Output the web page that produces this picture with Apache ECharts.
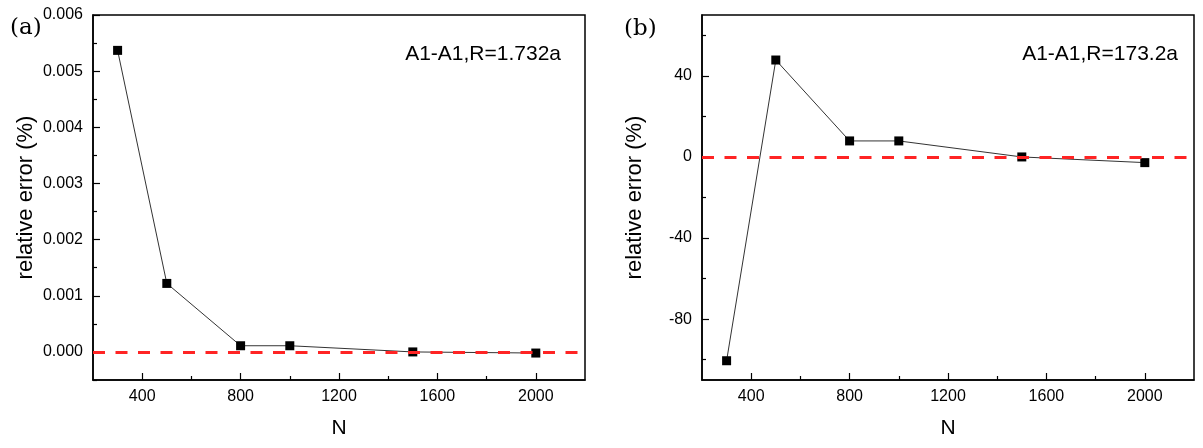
<!DOCTYPE html>
<html>
<head>
<meta charset="utf-8">
<script src="https://cdn.jsdelivr.net/npm/echarts@6/dist/echarts.min.js"></script>
<style>
html,body{margin:0;padding:0;background:#fff;}
#chart{width:1203px;height:448px;}
</style>
</head>
<body>
<div id="chart"></div>
<script>
// ---- data ----
const N = [300, 500, 800, 1000, 1500, 2000];
const errA = [0.00537, 0.00122, 0.00011, 0.00011, 0.0, -0.00002];
const errB = [-100.5, 47.8, 7.9, 7.9, 0.0, -2.8];

const xMajor = [400, 800, 1200, 1600, 2000];
const xMinor = [600, 1000, 1400, 1800];
const yMajorA = [0, 0.001, 0.002, 0.003, 0.004, 0.005, 0.006];
const yMinorA = [-0.0005, 0.0005, 0.0015, 0.0025, 0.0035, 0.0045, 0.0055];
const yMajorB = [-80, -40, 0, 40];
const yMinorB = [-100, -60, -20, 20, 60];

const panelLabels = ['(a)', '(b)'];
const notes = ['A1-A1,R=1.732a', 'A1-A1,R=173.2a'];
const xName = 'N';
const yName = 'relative error (%)';
const refLine = 0;

// ---- layout ----
const grids = [
  {left: 93, top: 15, width: 492, height: 365},
  {left: 702, top: 15, width: 492, height: 365}
];
const FONT = 'Liberation Sans, Arial, sans-serif';

const chart = echarts.init(document.getElementById('chart'));

function xAxes(g) {
  return [
    {
      type: 'value', gridIndex: g, min: 200, max: 2200, position: 'bottom',
      name: xName, nameLocation: 'middle', nameGap: 38,
      nameTextStyle: {fontFamily: FONT, fontSize: 21, color: '#000'},
      axisLine: {show: true, onZero: false, lineStyle: {color: '#000', width: 1.5}},
      axisTick: {show: true, inside: true, length: 7, customValues: xMajor, lineStyle: {color: '#000', width: 1.2}},
      axisLabel: {show: true, customValues: xMajor, margin: 9, fontFamily: FONT, fontSize: 16, color: '#000', formatter: v => String(v)},
      splitLine: {show: false}
    },
    {
      type: 'value', gridIndex: g, min: 200, max: 2200, position: 'bottom',
      axisLine: {show: false, onZero: false},
      axisTick: {show: true, inside: true, length: 4, customValues: xMinor, lineStyle: {color: '#000', width: 1.2}},
      axisLabel: {show: false},
      splitLine: {show: false}
    }
  ];
}

function yAxes(g, min, max, major, minor, fmt) {
  return [
    {
      type: 'value', gridIndex: g, min: min, max: max, position: 'left',
      name: yName, nameLocation: 'middle', nameGap: 56, nameRotate: 90,
      nameTextStyle: {fontFamily: FONT, fontSize: 22, color: '#000'},
      axisLine: {show: true, onZero: false, lineStyle: {color: '#000', width: 1.5}},
      axisTick: {show: true, inside: true, length: 7, customValues: major, lineStyle: {color: '#000', width: 1.2}},
      axisLabel: {show: true, customValues: major, margin: 10, fontFamily: FONT, fontSize: 16, color: '#000', formatter: fmt},
      splitLine: {show: false}
    },
    {
      type: 'value', gridIndex: g, min: min, max: max, position: 'left',
      axisLine: {show: false, onZero: false},
      axisTick: {show: true, inside: true, length: 4, customValues: minor, lineStyle: {color: '#000', width: 1.2}},
      axisLabel: {show: false},
      splitLine: {show: false}
    }
  ];
}

function series(g, ys) {
  return {
    type: 'line', xAxisIndex: g * 2, yAxisIndex: g * 2,
    data: N.map((n, i) => [n, ys[i]]),
    symbol: 'rect', symbolSize: 9,
    itemStyle: {color: '#000'},
    lineStyle: {color: '#333', width: 1},
    z: 3,
    markLine: {
      silent: true, symbol: 'none', animation: false, z: 4,
      label: {show: false},
      lineStyle: {color: '#ff2424', width: 2.8, type: [12, 10.5]},
      data: [{yAxis: refLine}]
    }
  };
}

const option = {
  animation: false,
  backgroundColor: '#fff',
  grid: grids.map(g => Object.assign({show: true, borderColor: '#000', borderWidth: 1.5, backgroundColor: 'transparent'}, g)),
  xAxis: [...xAxes(0), ...xAxes(1)],
  yAxis: [
    ...yAxes(0, -0.0005, 0.006, yMajorA, yMinorA, v => v.toFixed(3)),
    ...yAxes(1, -110, 70, yMajorB, yMinorB, v => String(v))
  ],
  series: [series(0, errA), series(1, errB)],
  graphic: [
    {type: 'text', left: 10, top: 17, style: {text: panelLabels[0], font: '23px "DejaVu Serif", serif', fill: '#000'}},
    {type: 'text', left: 624, top: 18, style: {text: panelLabels[1], font: '23px "DejaVu Serif", serif', fill: '#000'}},
    {type: 'text', right: 1203 - 561, top: 44, style: {text: notes[0], font: '21px "Liberation Sans", Arial, sans-serif', fill: '#000'}},
    {type: 'text', right: 1203 - 1178, top: 44, style: {text: notes[1], font: '21px "Liberation Sans", Arial, sans-serif', fill: '#000'}}
  ]
};
chart.setOption(option);
</script>
</body>
</html>
